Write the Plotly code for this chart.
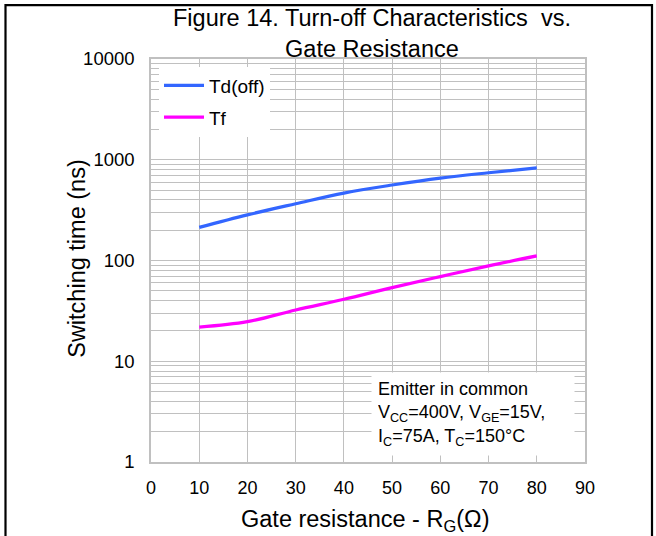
import plotly.graph_objects as go

rg = [10, 20, 30, 40, 50, 60, 70, 80]
td_off = [213, 284, 366, 467, 561, 658, 743, 830]
tf = [21.8, 24.7, 32.3, 41.2, 53.8, 69.2, 88.4, 111]

x_ticks = [0, 10, 20, 30, 40, 50, 60, 70, 80, 90]
y_ticks = [1, 10, 100, 1000, 10000]
y_tick_labels = ["1", "10", "100", "1000", "10000"]
y_minor = [m * 10 ** d for d in range(0, 4) for m in range(2, 10)]

title_text = "Figure 14. Turn-off Characteristics  vs.<br>Gate Resistance"
x_title = "Gate resistance - R<sub>G</sub>(Ω)"
y_title = "Switching time (ns)"
note_text = "Emitter in common<br>V<sub>CC</sub>=400V, V<sub>GE</sub>=15V,<br>I<sub>C</sub>=75A, T<sub>C</sub>=150°C"

FONT = "Liberation Sans, Arial, sans-serif"
GRID = "#c0c0c0"

fig = go.Figure()
fig.add_trace(go.Scatter(x=rg, y=td_off, mode="lines", name="Td(off)", legendgroup="a",
                         line=dict(color="#3366FF", width=3.2, shape="spline")))
fig.add_trace(go.Scatter(x=rg, y=tf, mode="lines", name="Tf", legendgroup="b",
                         line=dict(color="#FF00FF", width=3.2, shape="spline")))

# plot area (pixels): x 151..585, y 59.4..462
L, R, T, B = 151, 585, 59.4, 462
W, H = R - L, B - T

def px(x):
    return (x - L) / W

def py(y):
    return (B - y) / H

fig.update_layout(
    width=656, height=536,
    margin=dict(l=L, r=656 - R, t=T, b=536 - B, autoexpand=False),
    paper_bgcolor="white", plot_bgcolor="white",
    font=dict(family=FONT, color="black", size=18),
    legend=dict(x=px(159), y=py(67), xanchor="left", yanchor="top",
                bgcolor="white", borderwidth=0, font=dict(size=19),
                traceorder="grouped", tracegroupgap=4, itemwidth=40),
    showlegend=True,
)

fig.update_xaxes(
    range=[0, 90], tickvals=x_ticks, showgrid=True, gridcolor=GRID, gridwidth=1.3,
    showline=True, linecolor=GRID, linewidth=1.5, mirror=True, zeroline=False,
    ticks="", ticklabelstandoff=9, tickfont=dict(size=18), automargin=False,
)
fig.update_yaxes(
    type="log", range=[0, 4], tickvals=y_ticks, ticktext=y_tick_labels,
    showgrid=True, gridcolor=GRID, gridwidth=1.3,
    minor=dict(tickvals=y_minor, showgrid=True, gridcolor=GRID, gridwidth=1.3, ticks=""),
    showline=True, linecolor=GRID, linewidth=1.5, mirror=True, zeroline=False,
    ticks="", ticklabelstandoff=11, tickfont=dict(size=18.5), automargin=False,
)

# chart title
fig.add_annotation(xref="paper", yref="paper", x=px(372), y=py(3), xanchor="center", yanchor="top",
                   text=title_text, showarrow=False, font=dict(size=23.5, family=FONT, color="black"))
# axis titles
fig.add_annotation(xref="paper", yref="paper", x=px(365), y=py(520), xanchor="center", yanchor="middle",
                   text=x_title, showarrow=False, font=dict(size=23.5, family=FONT, color="black"))
fig.add_annotation(xref="paper", yref="paper", x=px(77), y=py(259), xanchor="center", yanchor="middle",
                   text=y_title, textangle=-90, showarrow=False,
                   font=dict(size=23.5, family=FONT, color="black"))

fig.add_annotation(
    xref="paper", yref="paper", x=px(371), y=py(456), xanchor="left", yanchor="bottom",
    text=note_text, showarrow=False, align="left", bgcolor="white", borderpad=6, width=190,
    font=dict(size=18, family=FONT, color="black"),
)

# outer black frame
fig.add_shape(type="rect", xref="paper", yref="paper",
              x0=px(5.5), x1=px(652), y0=py(545), y1=py(5.5),
              line=dict(color="black", width=2.2), fillcolor="rgba(0,0,0,0)", layer="above")

fig.write_html("out.html", config={"displayModeBar": False},
               post_script="document.body.style.margin='0px';document.body.style.overflow='hidden';")
